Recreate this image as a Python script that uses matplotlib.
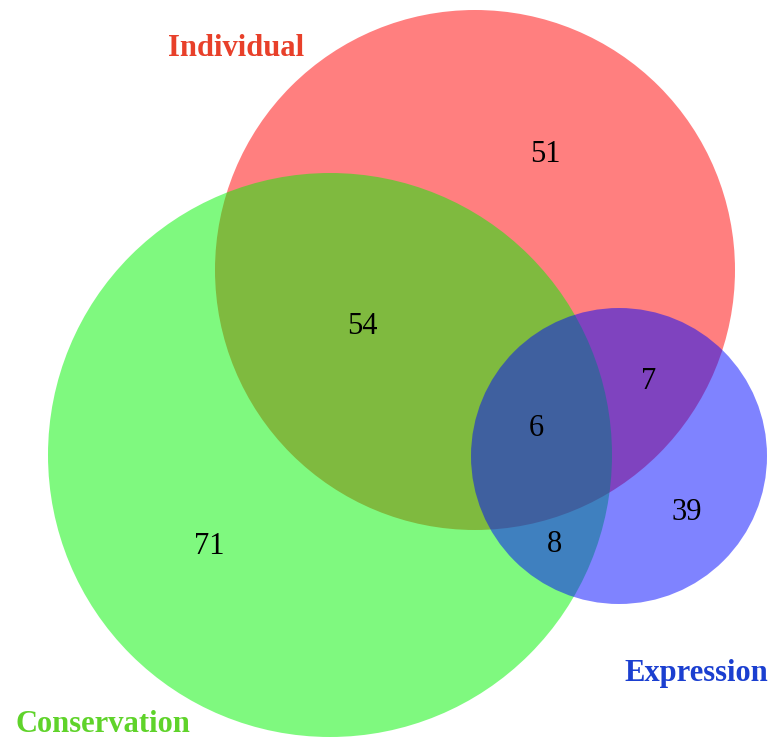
import matplotlib
matplotlib.use("Agg")
import matplotlib.pyplot as plt
from matplotlib.patches import Circle

plt.rcParams["font.family"] = ["Liberation Serif", "DejaVu Serif"]

# set names and region counts
set_names = ["Individual", "Conservation", "Expression"]
region_labels = ["51", "54", "7", "6", "39", "8", "71"]

# layout (pixel coords, y down)
circle_centers = [(475, 270), (330, 455), (619, 456)]
circle_radii = [260, 282, 148]
circle_colors = ["#ff0000", "#00f500", "#0008ff"]
region_pos = [(545, 154), (362, 326), (649, 381), (536, 428),
              (687, 512), (555, 545), (209, 546)]
name_pos = [(236, 48), (103, 724), (696, 673)]
name_colors = ["#e8402a", "#5fd32a", "#1b3fd0"]

fig = plt.figure(figsize=(7.71, 7.37), dpi=100)
ax = fig.add_axes([0, 0, 1, 1])
ax.set_xlim(0, 771)
ax.set_ylim(737, 0)
ax.set_aspect("equal")
ax.axis("off")

for (cx, cy), r, c in zip(circle_centers, circle_radii, circle_colors):
    ax.add_patch(Circle((cx, cy), r, facecolor=c, edgecolor="none", alpha=0.5))

for (x, y), t in zip(region_pos, region_labels):
    ax.text(x, y, t, ha="center", va="center", fontsize=22, color="black")

for (x, y), t, c in zip(name_pos, set_names, name_colors):
    ax.text(x, y, t, ha="center", va="center", fontsize=22,
            fontweight="bold", color=c)

fig.savefig("out.png", dpi=100)
